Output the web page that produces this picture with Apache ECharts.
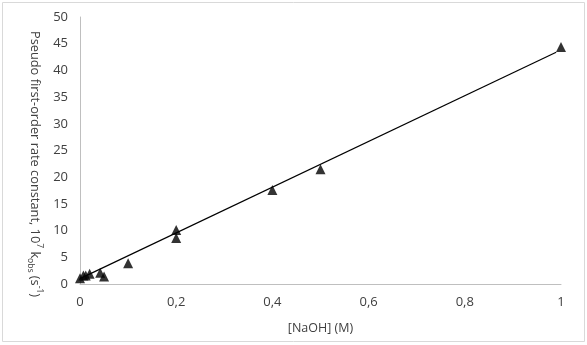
<!DOCTYPE html>
<html><head><meta charset="utf-8">
<script src="https://cdn.jsdelivr.net/npm/echarts@6/dist/echarts.min.js"></script>
<style>html,body{margin:0;padding:0;background:#fff}#c{width:587px;height:345px}</style>
</head><body><div id="c"></div>
<script>
const naoh = [0, 0.007, 0.012, 0.02, 0.042, 0.05, 0.1, 0.2, 0.2, 0.4, 0.5, 1.0];
const kobs = [1.1, 1.6, 1.6, 1.9, 2.1, 1.4, 3.9, 10.1, 8.6, 17.6, 21.5, 44.4];
const trendX = [0, 0.99];
const trendY = [1.0, 43.4];
const xTicks = [0, 0.2, 0.4, 0.6, 0.8, 1];
const yTicks = [0, 5, 10, 15, 20, 25, 30, 35, 40, 45, 50];

const chart = echarts.init(document.getElementById('c'));
const font = '"Open Sans", "Liberation Sans", sans-serif';
const txt = '#404040';
chart.setOption({
  animation: false,
  grid: {left: 80, right: 26, top: 17, bottom: 61},
  graphic: [
    {type: 'rect', shape: {x: 2.5, y: 2.5, width: 582, height: 339},
      style: {fill: 'none', stroke: '#d9d9d9', lineWidth: 1}, silent: true},
    {type: 'text', x: 35, y: 164, rotation: -Math.PI / 2, silent: true,
      style: {
        text: '{n|Pseudo first-order rate constant, 10}{sup|7}{n| k}{sub|obs}{n| (s}{sup|-1}{n|)}',
        align: 'center', verticalAlign: 'middle', fill: txt, font: '12.8px ' + font,
        rich: {
          n: {fontSize: 12.8, fontFamily: font, fill: txt, lineHeight: 18, verticalAlign: 'middle'},
          sup: {fontSize: 8.5, fontFamily: font, fill: txt, lineHeight: 18, verticalAlign: 'top'},
          sub: {fontSize: 8.5, fontFamily: font, fill: txt, lineHeight: 18, verticalAlign: 'bottom'}
        }
      }}
  ],
  xAxis: {
    type: 'value', min: xTicks[0], max: xTicks[xTicks.length-1], interval: 0.2,
    axisLine: {show: true, lineStyle: {color: '#bfbfbf', width: 1}},
    axisTick: {show: false}, splitLine: {show: false},
    axisLabel: {color: txt, fontSize: 13, fontFamily: font, margin: 12,
      formatter: v => String(+v.toFixed(1)).replace('.', ',')},
    name: '[NaOH] (M)', nameLocation: 'middle', nameGap: 38,
    nameTextStyle: {color: txt, fontSize: 12.5, fontFamily: font}
  },
  yAxis: {
    type: 'value', min: yTicks[0], max: yTicks[yTicks.length-1], interval: 5,
    axisLine: {show: true, lineStyle: {color: '#bfbfbf', width: 1}},
    axisTick: {show: false}, splitLine: {show: false},
    axisLabel: {color: txt, fontSize: 13, fontFamily: font, margin: 12}
  },
  series: [
    {type: 'line', data: trendX.map((x, i) => [x, trendY[i]]), symbol: 'none',
      lineStyle: {color: '#000', width: 1.2}, silent: true, z: 2},
    {type: 'scatter', data: naoh.map((x, i) => [x, kobs[i]]), symbol: 'triangle',
      symbolSize: 10, itemStyle: {color: '#000'}, z: 3}
  ]
});
</script></body></html>
